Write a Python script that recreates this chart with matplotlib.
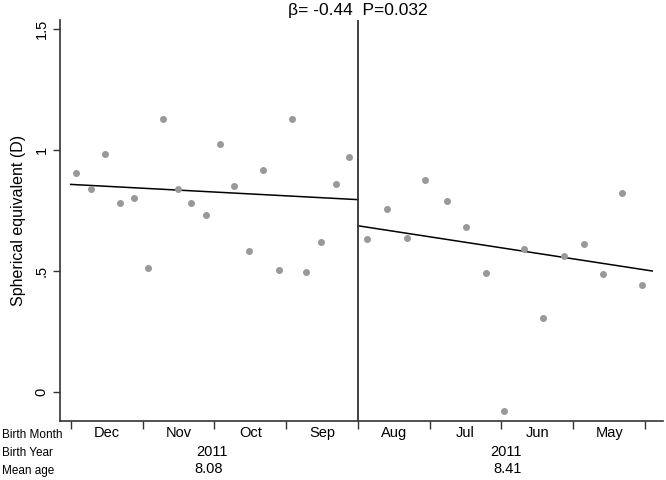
import matplotlib.pyplot as plt
import numpy as np

plt.rcParams['font.family'] = ['Liberation Sans', 'DejaVu Sans']

# x = months from the cut-off (negative = born before, left panel)
x_before = [-3.92, -3.72, -3.52, -3.32, -3.12, -2.92, -2.72, -2.51, -2.32, -2.12,
            -1.92, -1.72, -1.52, -1.32, -1.10, -0.92, -0.72, -0.52, -0.30, -0.12]
se_before = [0.905, 0.838, 0.982, 0.782, 0.802, 0.514, 1.128, 0.838, 0.782, 0.730,
             1.025, 0.851, 0.583, 0.917, 0.505, 1.128, 0.496, 0.621, 0.860, 0.970]
x_after = [0.13, 0.41, 0.68, 0.94, 1.24, 1.50, 1.78, 2.04, 2.31, 2.58,
           2.87, 3.15, 3.41, 3.68, 3.96]
se_after = [0.631, 0.755, 0.636, 0.876, 0.791, 0.680, 0.492, -0.079, 0.591, 0.304,
            0.562, 0.612, 0.489, 0.821, 0.442]

# fitted lines (ends)
fit_before_x = [-4.0, 0.0]
fit_before_y = [0.858, 0.795]
fit_after_x = [0.0, 4.1]
fit_after_y = [0.687, 0.500]

months = ['Dec', 'Nov', 'Oct', 'Sep', 'Aug', 'Jul', 'Jun', 'May']
month_edges = [-4, -3, -2, -1, 0, 1, 2, 3, 4]
year_labels = ['2011', '2011']
mean_age = ['8.08', '8.41']

fig = plt.figure(figsize=(6.66, 4.8), dpi=100)
ax = fig.add_axes([0.090, 0.122, 0.9055, 0.836])

ax.scatter(x_before, se_before, s=16, color='#999999', zorder=3)
ax.scatter(x_after, se_after, s=16, color='#999999', zorder=3)
ax.plot(fit_before_x, fit_before_y, color='black', lw=1.1)
ax.plot(fit_after_x, fit_after_y, color='black', lw=1.1)
ax.axvline(0, color='#333333', lw=1.3)

ax.set_xlim(-4.15, 4.25)
ax.set_ylim(-0.122, 1.537)

for s in ['top', 'right']:
    ax.spines[s].set_visible(False)
for s in ['left', 'bottom']:
    ax.spines[s].set_color('#333333')
    ax.spines[s].set_linewidth(1.2)

ax.set_yticks([0, 0.5, 1, 1.5])
ax.set_yticklabels(['0', '.5', '1', '1.5'], rotation=90, va='center', fontsize=10.5)
ax.tick_params(axis='y', length=5, width=1, color='#333333', pad=3)
ax.set_ylabel('Spherical equivalent (D)', fontsize=11.5, labelpad=6)

ax.set_xticks(month_edges)
ax.set_xticklabels([''] * len(month_edges))
ax.tick_params(axis='x', which='major', length=6, width=1, color='#333333')
centers = np.array(month_edges[:-1]) + 0.5
ax.set_xticks(centers, minor=True)
ax.set_xticklabels(months, minor=True, fontsize=10.5)
ax.tick_params(axis='x', which='minor', length=0, pad=3)

trans = ax.get_xaxis_transform()
ax.text(-2.03, -0.075, year_labels[0], transform=trans, ha='center', va='center', fontsize=10.5)
ax.text(-2.08, -0.118, mean_age[0], transform=trans, ha='center', va='center', fontsize=10.5)
ax.text(2.07, -0.075, year_labels[1], transform=trans, ha='center', va='center', fontsize=10.5)
ax.text(2.08, -0.118, mean_age[1], transform=trans, ha='center', va='center', fontsize=10.5)

fig.text(0.003, 1 - 435 / 480, 'Birth Month', ha='left', va='center', fontsize=8.5)
fig.text(0.003, 1 - 453 / 480, 'Birth Year', ha='left', va='center', fontsize=8.5)
fig.text(0.003, 1 - 471 / 480, 'Mean age', ha='left', va='center', fontsize=8.5)

ax.text(0, 1.005, 'β= -0.44  P=0.032', transform=trans, ha='center', va='bottom', fontsize=12.5)

fig.savefig('out.png', dpi=100)
